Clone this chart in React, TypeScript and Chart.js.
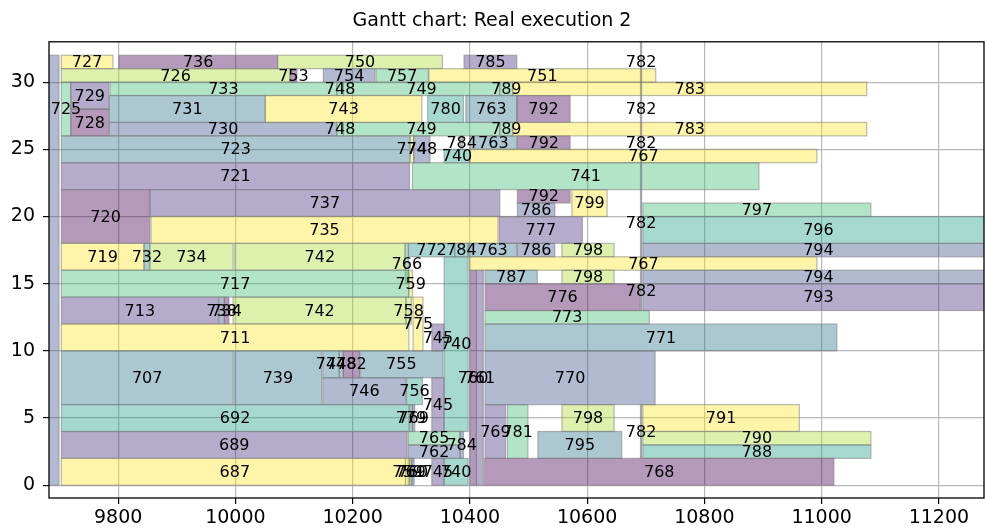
import React, { useEffect, useRef } from 'react';
import { Chart, registerables } from 'chart.js';

Chart.register(...registerables);

// [label, start, end, first slot, slot count, colour index]
type Task = [string, number, number, number, number, number];

const TITLE = 'Gantt chart: Real execution 2';
const X_MIN = 9682;
const X_MAX = 11277;
const Y_MIN = -0.95;
const Y_MAX = 33;
const xTicks = [9800, 10000, 10200, 10400, 10600, 10800, 11000, 11200];
const yTicks = [0, 5, 10, 15, 20, 25, 30];
const viridis = ['#440154', '#472d7b', '#3b528b', '#2c728e', '#21918c', '#1fa088', '#3fbc73', '#addc30', '#fde725'];

const idleStrip: Task[] = [['', 9600, 9699, 0, 32, 2]];

const rowsBottom: Task[] = [
  ['740', 10356, 10397, 4, 13, 5],
  ['760', 10400, 10411, 0, 16, 0],
  ['761', 10411, 10423, 0, 16, 1],
  ['745', 10335, 10356, 4, 4, 1],
  ['692', 9703, 10296, 4, 2, 5],
  ['779', 10297, 10302, 4, 2, 4],
  ['769', 10302, 10306, 4, 2, 2],
  ['769', 10426, 10461, 2, 4, 1],
  ['781', 10464, 10499, 2, 4, 6],
  ['798', 10557, 10646, 4, 2, 7],
  ['791', 10695, 10962, 4, 2, 8],
  ['689', 9703, 10293, 2, 2, 1],
  ['765', 10295, 10383, 3, 1, 6],
  ['762', 10295, 10383, 2, 1, 2],
  ['784', 10383, 10389, 2, 2, 2],
  ['795', 10516, 10659, 2, 2, 3],
  ['790', 10695, 11084, 3, 1, 7],
  ['788', 10695, 11084, 2, 1, 5],
  ['687', 9703, 10295, 0, 2, 8],
  ['759', 10290, 10297, 0, 2, 8],
  ['769', 10297, 10301, 0, 2, 4],
  ['760', 10301, 10305, 0, 2, 2],
  ['745', 10335, 10356, 0, 2, 1],
  ['740', 10356, 10397, 0, 2, 5],
  ['768', 10425, 11021, 0, 2, 0],
];

const rowsLower: Task[] = [
  ['713', 9703, 9971, 12, 2, 1],
  ['738', 9972, 9981, 12, 2, 2],
  ['734', 9981, 9989, 12, 2, 0],
  ['742', 9996, 10291, 12, 2, 7],
  ['758', 10291, 10300, 12, 2, 7],
  ['775', 10303, 10320, 10, 4, 8],
  ['773', 10426, 10706, 12, 1, 6],
  ['711', 9703, 10296, 10, 2, 8],
  ['745', 10335, 10356, 10, 2, 1],
  ['771', 10426, 11026, 10, 2, 3],
  ['707', 9703, 9996, 6, 4, 3],
  ['739', 9998, 10147, 6, 4, 3],
  ['744', 10149, 10177, 8, 2, 3],
  ['748', 10177, 10184, 8, 2, 3],
  ['782', 10184, 10212, 8, 2, 0],
  ['755', 10212, 10354, 8, 2, 3],
  ['746', 10149, 10291, 6, 2, 2],
  ['756', 10292, 10319, 6, 2, 5],
  ['770', 10426, 10716, 6, 4, 2],
];

const rowsMiddle: Task[] = [
  ['720', 9703, 9854, 18, 4, 0],
  ['737', 9854, 10451, 20, 2, 1],
  ['735', 9856, 10448, 18, 2, 8],
  ['777', 10450, 10592, 18, 2, 1],
  ['792', 10481, 10571, 21, 1, 0],
  ['786', 10481, 10545, 20, 1, 2],
  ['799', 10574, 10634, 20, 2, 8],
  ['797', 10695, 11084, 20, 1, 6],
  ['796', 10695, 11294, 18, 2, 5],
  ['719', 9703, 9844, 16, 2, 8],
  ['732', 9844, 9854, 16, 2, 4],
  ['734', 9854, 9996, 16, 2, 7],
  ['742', 9999, 10289, 16, 2, 7],
  ['766', 10290, 10295, 15, 3, 6],
  ['772', 10295, 10374, 17, 1, 4],
  ['784', 10374, 10397, 17, 1, 4],
  ['763', 10397, 10480, 17, 1, 3],
  ['786', 10481, 10545, 17, 1, 2],
  ['798', 10557, 10646, 17, 1, 7],
  ['794', 10695, 11294, 17, 1, 2],
  ['767', 10400, 10992, 16, 1, 8],
  ['717', 9703, 10296, 14, 2, 6],
  ['759', 10296, 10302, 14, 2, 8],
  ['787', 10426, 10515, 15, 1, 3],
  ['798', 10557, 10646, 15, 1, 7],
  ['794', 10695, 11294, 15, 1, 2],
  ['776', 10426, 10690, 13, 2, 0],
  ['793', 10695, 11294, 13, 2, 1],
];

const rowsUpper: Task[] = [
  ['723', 9703, 10298, 24, 2, 3],
  ['774', 10298, 10304, 24, 2, 8],
  ['748', 10304, 10332, 24, 2, 2],
  ['740', 10356, 10400, 24, 1, 5],
  ['784', 10384, 10388, 25, 1, 4],
  ['763', 10400, 10480, 25, 1, 3],
  ['792', 10481, 10571, 25, 1, 0],
  ['767', 10400, 10992, 24, 1, 8],
  ['721', 9703, 10297, 22, 2, 1],
  ['741', 10302, 10893, 22, 2, 6],
];

const rowsTop: Task[] = [
  ['727', 9703, 9791, 31, 1, 8],
  ['736', 9801, 10072, 31, 1, 0],
  ['750', 10072, 10353, 31, 1, 7],
  ['785', 10390, 10480, 31, 1, 1],
  ['726', 9703, 10093, 30, 1, 7],
  ['753', 10093, 10105, 30, 1, 0],
  ['754', 10150, 10238, 30, 1, 2],
  ['757', 10240, 10329, 30, 1, 6],
  ['751', 10330, 10717, 30, 1, 8],
  ['733', 9786, 10173, 29, 1, 6],
  ['748', 10173, 10184, 29, 1, 6],
  ['749', 10184, 10451, 29, 1, 6],
  ['789', 10451, 10473, 29, 1, 6],
  ['783', 10473, 11077, 29, 1, 8],
  ['725', 9703, 9719, 26, 4, 6],
  ['729', 9719, 9784, 28, 2, 1],
  ['728', 9719, 9784, 26, 2, 0],
  ['731', 9785, 10051, 27, 2, 3],
  ['743', 10051, 10318, 27, 2, 8],
  ['780', 10328, 10389, 27, 2, 5],
  ['763', 10393, 10480, 27, 2, 3],
  ['792', 10480, 10571, 27, 2, 0],
  ['730', 9785, 10173, 26, 1, 2],
  ['748', 10173, 10184, 26, 1, 6],
  ['749', 10184, 10451, 26, 1, 6],
  ['789', 10451, 10473, 26, 1, 6],
  ['783', 10473, 11077, 26, 1, 8],
];

// task 782 is a very short task spread over many slots: one thin bar, labels per segment
const bar782: Task[] = [['', 10691, 10693, 2, 4, 2], ['', 10691, 10693, 13, 21, 2]];
const labels782: Task[] = [
  ['782', 10691, 10693, 31, 1, 0],
  ['782', 10691, 10693, 27, 2, 0],
  ['782', 10691, 10693, 25, 1, 0],
  ['782', 10691, 10693, 18, 3, 0],
  ['782', 10691, 10693, 13, 3, 0],
  ['782', 10691, 10693, 2, 4, 0],
];

const allBars: Task[] = [
  ...idleStrip,
  ...rowsBottom,
  ...rowsLower,
  ...rowsMiddle,
  ...rowsUpper,
  ...rowsTop,
  ...bar782,
];
const allLabels: Task[] = [...allBars, ...labels782];

const FONT = '"DejaVu Sans", sans-serif';

function rgba(hex: string, a: number): string {
  const r = parseInt(hex.slice(1, 3), 16);
  const g = parseInt(hex.slice(3, 5), 16);
  const b = parseInt(hex.slice(5, 7), 16);
  return `rgba(${r},${g},${b},${a})`;
}

const ganttPlugin = {
  id: 'ganttBars',
  afterDatasetsDraw(chart: any) {
    const { ctx, chartArea } = chart;
    const xs = chart.scales.x;
    const ys = chart.scales.y;
    ctx.save();
    ctx.beginPath();
    ctx.rect(chartArea.left, chartArea.top, chartArea.right - chartArea.left, chartArea.bottom - chartArea.top);
    ctx.clip();
    for (const t of allBars) {
      const x0 = xs.getPixelForValue(t[1]);
      const x1 = xs.getPixelForValue(t[2]);
      const yb = ys.getPixelForValue(t[3]);
      const yt = ys.getPixelForValue(t[3] + t[4]);
      ctx.fillStyle = rgba(viridis[t[5]], 0.4);
      ctx.fillRect(x0, yt, x1 - x0, yb - yt);
      ctx.strokeStyle = 'rgba(128,128,128,0.55)';
      ctx.lineWidth = 1.2;
      ctx.strokeRect(x0, yt, x1 - x0, yb - yt);
    }
    ctx.restore();

    ctx.save();
    ctx.font = `16px ${FONT}`;
    ctx.fillStyle = '#000';
    ctx.textAlign = 'center';
    ctx.textBaseline = 'middle';
    for (const t of allLabels) {
      if (!t[0]) continue;
      const cx = (xs.getPixelForValue(t[1]) + xs.getPixelForValue(t[2])) / 2;
      const cy = (ys.getPixelForValue(t[3]) + ys.getPixelForValue(t[3] + t[4])) / 2;
      ctx.fillText(t[0], cx, cy + 1);
    }
    ctx.restore();

    ctx.save();
    ctx.strokeStyle = '#000';
    ctx.lineWidth = 1.3;
    ctx.strokeRect(chartArea.left, chartArea.top, chartArea.right - chartArea.left, chartArea.bottom - chartArea.top);
    ctx.restore();
  },
};

export default function App() {
  const ref = useRef<HTMLCanvasElement>(null);
  useEffect(() => {
    document.body.style.margin = '0';
    const canvas = ref.current;
    if (!canvas) return;
    const tickFont = { family: FONT, size: 19 };
    const chart = new Chart(canvas, {
      type: 'scatter',
      data: { datasets: [{ data: [] as any[] }] },
      options: {
        animation: false,
        responsive: false,
        devicePixelRatio: 1,
        layout: { padding: { left: 0, right: 1, top: 0, bottom: 0 } },
        plugins: {
          legend: { display: false },
          tooltip: { enabled: false },
          title: {
            display: true,
            text: TITLE,
            color: '#000',
            font: { family: FONT, size: 19, weight: 'normal' },
            padding: { top: 10, bottom: 9 },
          },
        },
        scales: {
          x: {
            type: 'linear',
            min: X_MIN,
            max: X_MAX,
            afterBuildTicks: (s: any) => {
              s.ticks = xTicks.map((v) => ({ value: v }));
            },
            afterFit: (s: any) => {
              s.height = 32;
            },
            border: { display: false },
            grid: { color: '#b8b8b8', lineWidth: 1.2, tickLength: 6, tickColor: '#000', tickWidth: 1.2 },
            ticks: {
              color: '#000',
              font: tickFont,
              padding: 3,
              maxRotation: 0,
              autoSkip: false,
              callback: (v: any) => String(v),
            },
          },
          y: {
            type: 'linear',
            min: Y_MIN,
            max: Y_MAX,
            afterBuildTicks: (s: any) => {
              s.ticks = yTicks.map((v) => ({ value: v }));
            },
            afterFit: (s: any) => {
              s.width = 49;
            },
            border: { display: false },
            grid: { color: '#b8b8b8', lineWidth: 1.2, tickLength: 6, tickColor: '#000', tickWidth: 1.2 },
            ticks: {
              color: '#000',
              font: tickFont,
              padding: 8,
              autoSkip: false,
              callback: (v: any) => String(v),
            },
          },
        },
      } as any,
      plugins: [ganttPlugin],
    });
    return () => chart.destroy();
  }, []);
  return (
    <div style={{ width: 985, height: 530 }}>
      <canvas ref={ref} width={985} height={530} style={{ display: 'block' }} />
    </div>
  );
}
